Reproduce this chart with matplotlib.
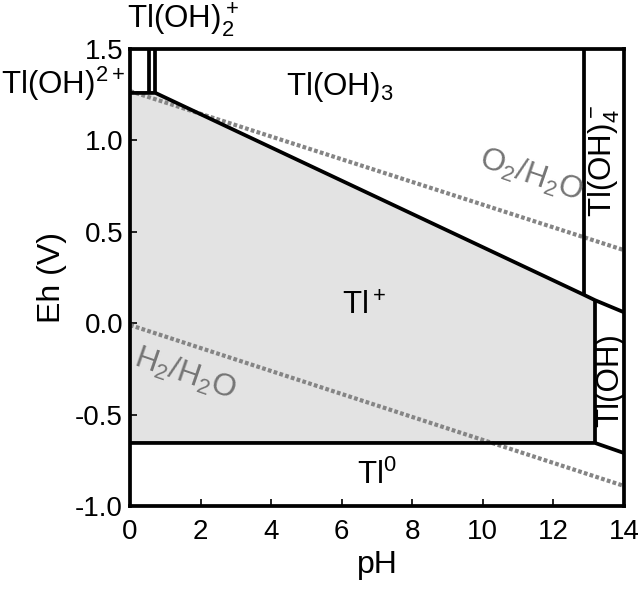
import matplotlib

matplotlib.use("Agg")
import matplotlib.pyplot as plt

plt.rcParams["font.family"] = ["Liberation Sans", "DejaVu Sans"]
plt.rcParams["mathtext.fontset"] = "custom"
plt.rcParams["mathtext.rm"] = "Liberation Sans"
plt.rcParams["mathtext.default"] = "regular"

# stability-field boundaries (pH, Eh in V)
tl0_ph = [0, 13.18, 14]
tl0_eh = [-0.655, -0.655, -0.71]
upper_ph = [0, 0.72, 12.87, 13.18, 14]
upper_eh = [1.26, 1.26, 0.155, 0.126, 0.06]
vert_ph = [0.55, 0.72, 12.87, 13.18]
vert_lo = [1.26, 1.26, 0.155, -0.655]
vert_hi = [1.5, 1.5, 1.5, 0.126]

# Tl+ field (shaded)
tlp_ph = [0, 0, 0.72, 13.18, 13.18]
tlp_eh = [-0.655, 1.26, 1.26, 0.126, -0.655]

# water stability lines
water_ph = [0, 14]
o2_eh = [1.27, 0.40]
h2_eh = [-0.01, -0.89]

BLACK_LW = 2.7

fig = plt.figure(figsize=(6.38, 5.91), dpi=100)
ax = fig.add_axes([0.2038, 0.1438, 0.7742, 0.7732])

ax.fill(tlp_ph, tlp_eh, color="#e3e3e3", lw=0, zorder=1)
ax.plot(water_ph, o2_eh, color="#858585", lw=3.0, ls=(0, (0.9, 0.55)), zorder=2)
ax.plot(water_ph, h2_eh, color="#858585", lw=3.0, ls=(0, (0.9, 0.55)), zorder=2)

ax.plot(tl0_ph, tl0_eh, color="black", lw=BLACK_LW, zorder=3)
ax.plot(upper_ph, upper_eh, color="black", lw=BLACK_LW, zorder=3)
ax.vlines(vert_ph, vert_lo, vert_hi, color="black", lw=BLACK_LW, zorder=3)

ax.set_xlim(0, 14)
ax.set_ylim(-1.0, 1.5)
ax.set_xticks([0, 2, 4, 6, 8, 10, 12, 14])
ax.set_yticks([-1.0, -0.5, 0.0, 0.5, 1.0, 1.5])
ax.set_yticklabels(["-1.0", "-0.5", "0.0", "0.5", "1.0", "1.5"])
ax.tick_params(direction="in", length=5, width=1.2, labelsize=20)
ax.tick_params(axis="x", pad=9)
ax.tick_params(axis="y", pad=5)
for s in ax.spines.values():
    s.set_linewidth(BLACK_LW)
    s.set_zorder(4)

ax.set_xlabel("pH", fontsize=23, labelpad=4)
ax.set_ylabel("Eh (V)", fontsize=23, labelpad=6)

fs = 22.5
gray = "#757575"
ax.text(5.93, 1.29, "Tl(OH)$_3$", fontsize=fs, ha="center", va="center")
ax.text(6.63, 0.09, "Tl$^+$", fontsize=fs, ha="center", va="center")
ax.text(7.0, -0.83, "Tl$^0$", fontsize=fs, ha="center", va="center")
ax.text(13.45, 0.89, "Tl(OH)$_4^-$", fontsize=fs, ha="center", va="center", rotation=90)
ax.text(13.6, -0.31, "Tl(OH)", fontsize=fs, ha="center", va="center", rotation=90)
ax.text(11.37, 0.81, "O$_2$/H$_2$O", fontsize=fs, color=gray,
        ha="center", va="center", rotation=-19)
ax.text(1.55, -0.28, "H$_2$/H$_2$O", fontsize=fs, color=gray,
        ha="center", va="center", rotation=-19)
ax.text(1.5, 1.66, "Tl(OH)$_2^+$", fontsize=fs, ha="center", va="center", clip_on=False)
ax.text(-1.9, 1.31, "Tl(OH)$^{2+}$", fontsize=fs, ha="center", va="center", clip_on=False)

fig.savefig("out.png", dpi=100)
